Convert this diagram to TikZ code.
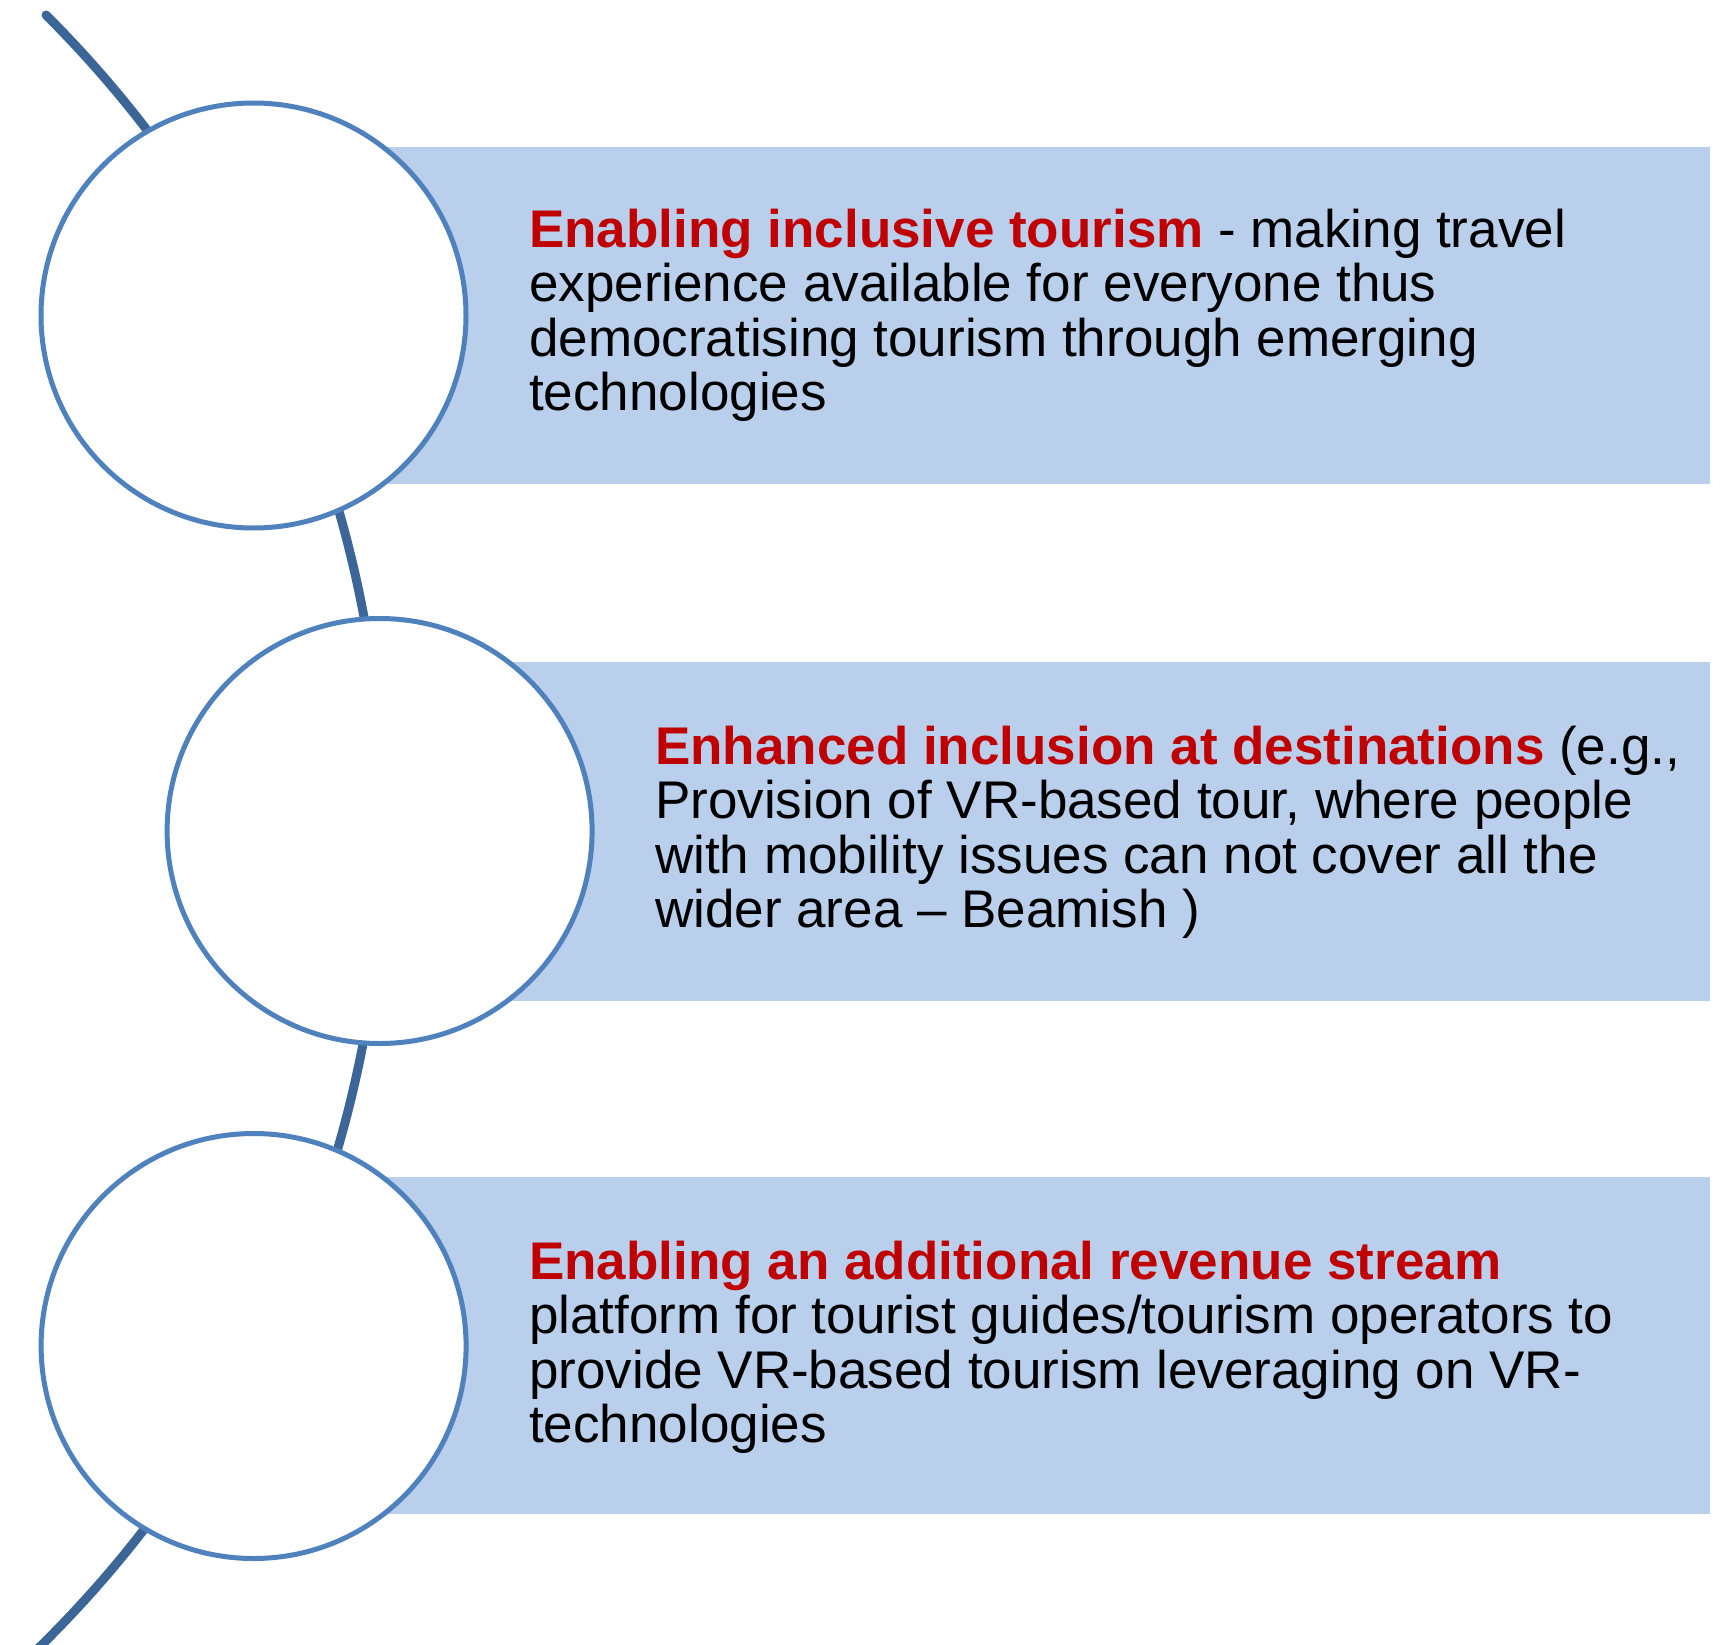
\documentclass[tikz,border=0pt]{standalone}
\usepackage{fontspec}
\setmainfont{Liberation Sans}
\definecolor{arcc}{HTML}{3D6698}
\definecolor{ringc}{HTML}{4F81BD}
\definecolor{boxc}{HTML}{B9CFEC}
\definecolor{redc}{HTML}{C00000}
\begin{document}
\begin{tikzpicture}[x=1pt,y=-1pt,
  ring/.style={circle,draw=ringc,line width=5pt,fill=white,minimum size=425pt,inner sep=0pt},
  band/.style={fill=boxc,draw=none,inner sep=0pt,anchor=north west},
  txt/.style={anchor=base west,align=left,inner sep=0pt,font=\fontsize{53}{54.6}\selectfont}]
\useasboundingbox (0,0) rectangle (1736,1645);
% background arc
\coordinate (arcstart) at (46,15);
\draw[arcc,line width=9pt,line cap=round] (arcstart) arc[start angle=-45.1,end angle=46,radius=1147.5];
% bands
\node[band,minimum width=1456.5pt,minimum height=337pt] (b1) at (253.5,146.5) {};
\node[band,minimum width=1330.4pt,minimum height=339pt] (b2) at (379.6,662) {};
\node[band,minimum width=1456.4pt,minimum height=336.5pt] (b3) at (253.6,1177) {};
% circles
\node[ring] (c1) at (253.5,315.5) {};
\node[ring] (c2) at (379.6,831) {};
\node[ring] (c3) at (253.6,1346) {};
% texts (anchor = baseline of last line)
\node[txt] (t1) at (529,410.8) {{\bfseries\color{redc}Enabling inclusive tourism} - making travel\\experience available for everyone thus\\democratising tourism through emerging\\technologies};
\node[txt] (t2) at (655,927.8) {{\bfseries\color{redc}Enhanced inclusion at destinations} (e.g.,\\Provision of VR-based tour, where people\\with mobility issues can not cover all the\\wider area – Beamish )};
\node[txt] (t3) at (529,1442.8) {{\bfseries\color{redc}Enabling an additional revenue stream}\\platform for tourist guides/tourism operators to\\provide VR-based tourism leveraging on VR-\\technologies};
\end{tikzpicture}
\end{document}
